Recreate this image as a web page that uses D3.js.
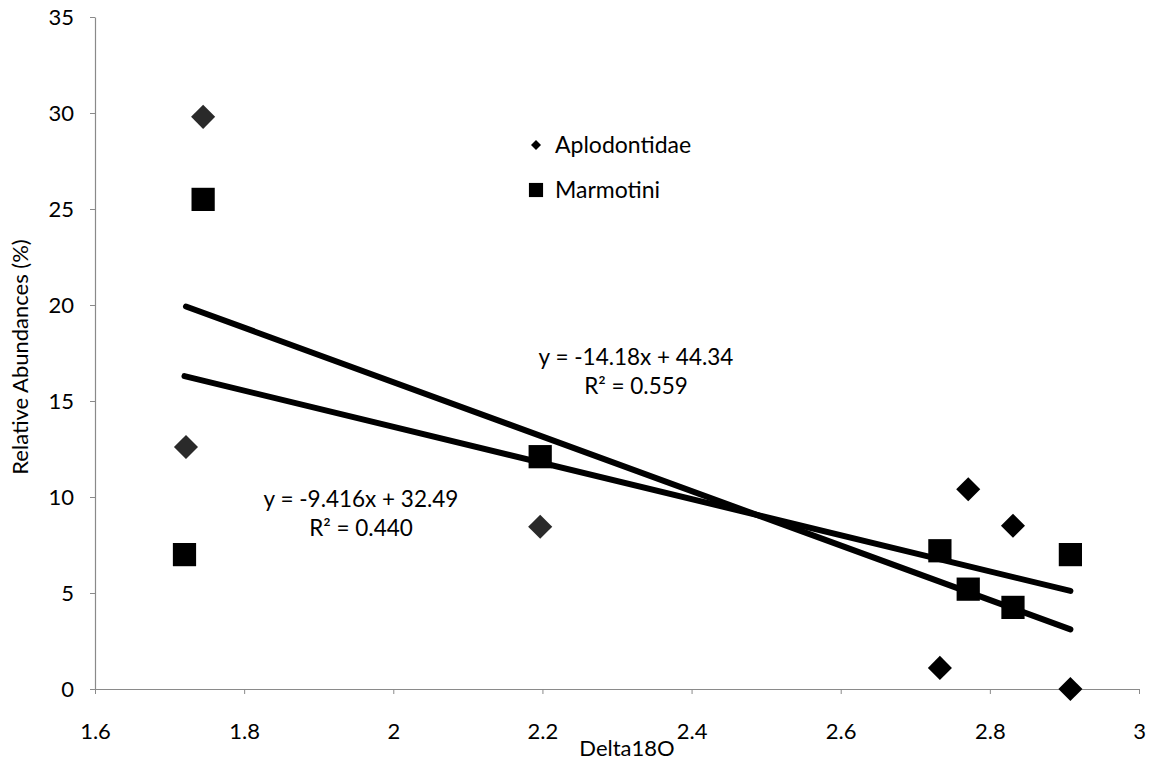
<!DOCTYPE html>
<html>
<head>
<meta charset="utf-8">
<script src="https://cdn.jsdelivr.net/npm/d3@7"></script>
<style>
  html, body { margin: 0; padding: 0; background: #fff; }
  svg { display: block; }
  text { font-family: Lato, "Open Sans", sans-serif; fill: #000; }
</style>
</head>
<body>
<div id="chart"></div>
<script>
// Data.
const aploX = [1.745, 1.722, 2.197, 2.771, 2.831, 2.733, 2.908];
const aploY = [29.8, 12.6, 8.45, 10.4, 8.5, 1.1, 0.0];
const marmX = [1.745, 1.720, 2.197, 2.733, 2.771, 2.831, 2.908];
const marmY = [25.5, 7.0, 12.1, 7.2, 5.2, 4.25, 7.0];

// Trendline coefficients as printed on the chart.
const aploFit = { slope: -14.18, intercept: 44.34, label: "y = -14.18x + 44.34", r2: "R² = 0.559" };
const marmFit = { slope: -9.416, intercept: 32.49, label: "y = -9.416x + 32.49", r2: "R² = 0.440" };

const xTicks = [1.6, 1.8, 2, 2.2, 2.4, 2.6, 2.8, 3];
const yTicks = [0, 5, 10, 15, 20, 25, 30, 35];
const seriesNames = ["Aplodontidae", "Marmotini"];

/**
 * Chart.
 */
const width = 1152;
const height = 760;
const margin = { top: 17, right: 13, bottom: 71, left: 95 };

const svg = d3.select("#chart")
  .append("svg")
  .attr("width", width)
  .attr("height", height);

const x = d3.scaleLinear().domain([1.6, 3]).range([margin.left, width - margin.right]);
const y = d3.scaleLinear().domain([0, 35]).range([height - margin.bottom, margin.top]);

// Axes.
const xAxis = svg.append("g")
  .attr("transform", `translate(0,${y(0)})`)
  .call(d3.axisBottom(x).tickValues(xTicks).tickSize(5).tickSizeOuter(0).tickFormat(d3.format("")));
const yAxis = svg.append("g")
  .attr("transform", `translate(${x(1.6)},0)`)
  .call(d3.axisLeft(y).tickValues(yTicks).tickSize(5).tickSizeOuter(0));

[xAxis, yAxis].forEach((g) => {
  g.select(".domain").attr("stroke", "#8a8a8a").attr("stroke-width", 1.2);
  g.selectAll(".tick line").attr("stroke", "#8a8a8a");
  g.selectAll(".tick text").attr("font-size", 22).attr("font-family", "Lato, 'Open Sans', sans-serif").attr("fill", "#000");
});
xAxis.selectAll(".tick text").attr("y", 34);
yAxis.selectAll(".tick text").attr("x", -21).attr("dy", "0.36em");

// Axis titles.
svg.append("text")
  .attr("x", 627)
  .attr("y", 756)
  .attr("text-anchor", "middle")
  .attr("font-size", 22)
  .text("Delta18O");

svg.append("text")
  .attr("transform", "translate(28,357) rotate(-90)")
  .attr("text-anchor", "middle")
  .attr("font-size", 22)
  .text("Relative Abundances (%)");

// Trendlines, drawn over the data range of each series.
const fits = [
  { fit: aploFit, xs: aploX },
  { fit: marmFit, xs: marmX },
];
svg.append("g")
  .selectAll("line")
  .data(fits)
  .join("line")
  .attr("x1", (d) => x(d3.min(d.xs)))
  .attr("x2", (d) => x(d3.max(d.xs)))
  .attr("y1", (d) => y(d.fit.slope * d3.min(d.xs) + d.fit.intercept))
  .attr("y2", (d) => y(d.fit.slope * d3.max(d.xs) + d.fit.intercept))
  .attr("stroke", "#000")
  .attr("stroke-width", 6)
  .attr("stroke-linecap", "round");

// Markers.
const diamond = d3.symbol().type(d3.symbolSquare).size(290);
const square = d3.symbol().type(d3.symbolSquare).size(540);

svg.append("g")
  .selectAll("path")
  .data(d3.zip(marmX, marmY))
  .join("path")
  .attr("d", square)
  .attr("transform", (d) => `translate(${x(d[0])},${y(d[1])})`)
  .attr("fill", "#000");

svg.append("g")
  .selectAll("path")
  .data(d3.zip(aploX, aploY))
  .join("path")
  .attr("d", diamond)
  .attr("transform", (d) => `translate(${x(d[0])},${y(d[1])}) rotate(45)`)
  .attr("fill", (d, i) => (i < 3 ? "#2a2a2a" : "#000"));

// Equation labels.
const eqLabels = [
  { fit: aploFit, cx: 636, cy: 365 },
  { fit: marmFit, cx: 361, cy: 507 },
];
eqLabels.forEach((e) => {
  svg.append("text").attr("x", e.cx).attr("y", e.cy).attr("text-anchor", "middle")
    .attr("font-size", 22.5).text(e.fit.label);
  svg.append("text").attr("x", e.cx).attr("y", e.cy + 29).attr("text-anchor", "middle")
    .attr("font-size", 22.5).text(e.fit.r2);
});

// Legend.
const legend = svg.append("g").attr("transform", "translate(536,0)");
legend.append("path")
  .attr("d", d3.symbol().type(d3.symbolSquare).size(50))
  .attr("transform", "translate(0,145) rotate(45)")
  .attr("fill", "#000");
legend.append("path")
  .attr("d", d3.symbol().type(d3.symbolSquare).size(200))
  .attr("transform", "translate(0,190)")
  .attr("fill", "#000");
legend.selectAll("text")
  .data(seriesNames)
  .join("text")
  .attr("x", 19)
  .attr("y", (d, i) => 153 + i * 45)
  .attr("font-size", 23)
  .text((d) => d);
</script>
</body>
</html>
